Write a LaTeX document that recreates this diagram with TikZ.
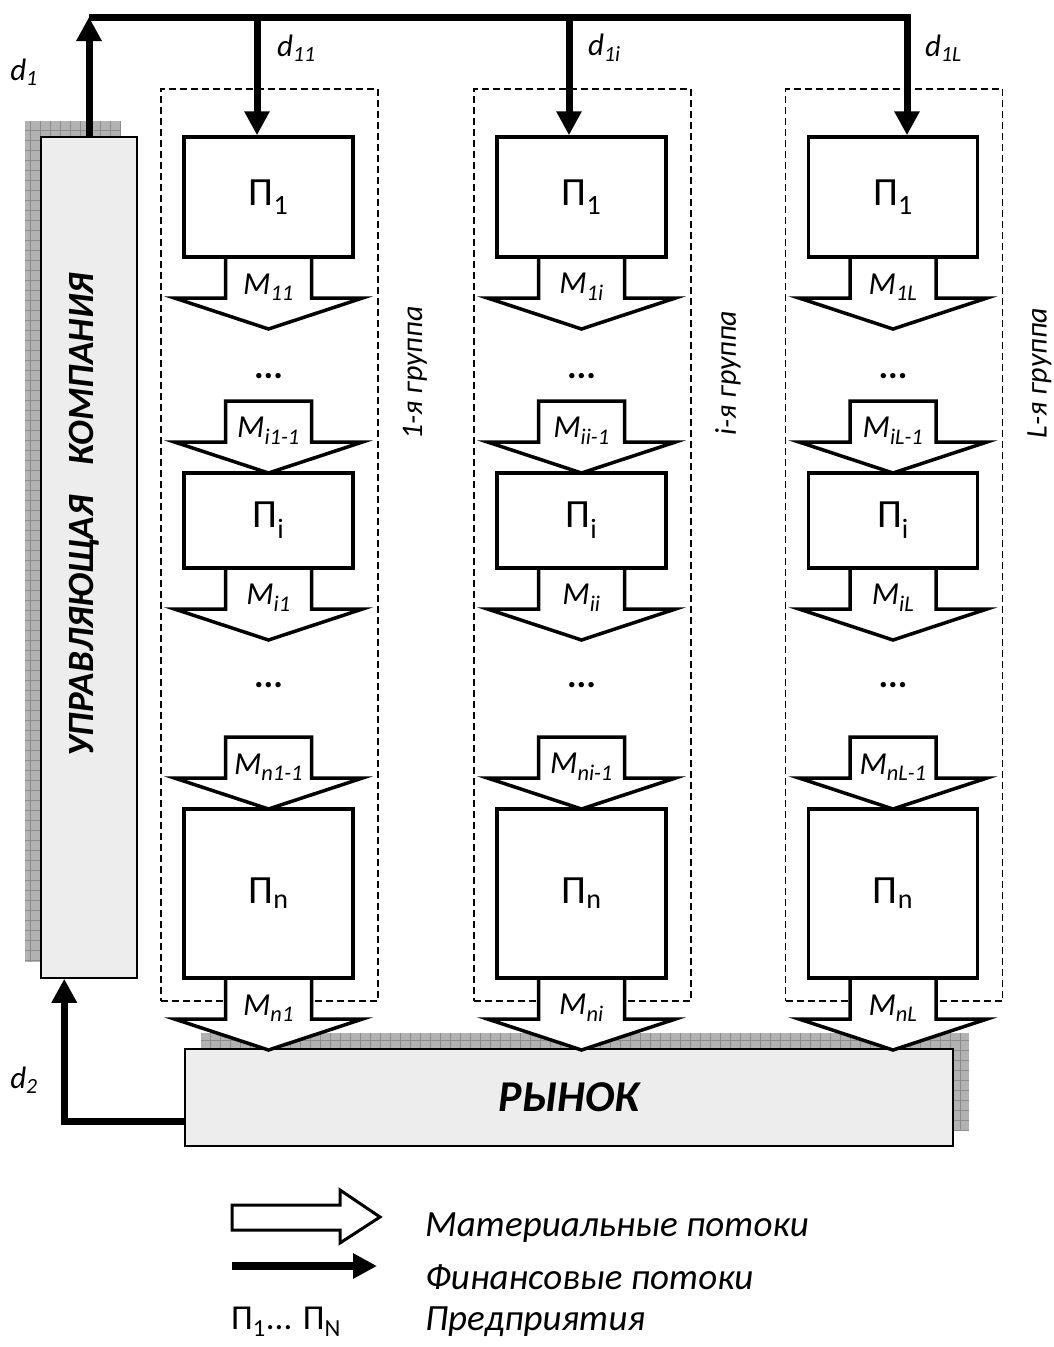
\documentclass[tikz,border=0pt]{standalone}
\usepackage{fontspec}
\setmainfont{Carlito}
\usetikzlibrary{arrows.meta}
\tikzset{
    firm-box/.style = {draw, line width=3.5pt, fill=white, minimum width=169pt, inner sep=0pt, font=\fontsize{40}{44}\selectfont},
    group-box/.style = {draw, dash pattern=on 7pt off 4pt, line width=1.3pt, minimum width=217pt, minimum height=912pt, inner sep=0pt},
    group-label/.style = {font=\fontsize{30}{34}\selectfont\itshape, inner sep=0pt},
    big-box/.style = {draw, line width=1.5pt, fill=black!7, inner sep=0pt},
    big-text/.style = {font=\fontsize{44}{48}\selectfont\bfseries\itshape, inner sep=0pt},
    shadow-box/.style = {fill=black!30},
    shadow-grid/.style = {black!45, line width=0.5pt, step=10pt},
    flow-arrow/.style = {draw, fill=white, line width=3.5pt, line join=miter},
    flow-label/.style = {font=\fontsize{32}{36}\selectfont\itshape, inner sep=0pt},
    money/.style = {line width=7pt, -{Triangle[width=24pt,length=24pt]}},
    d-label/.style = {font=\fontsize{31}{34}\selectfont\itshape, inner sep=0pt},
    dots/.style = {font=\fontsize{36}{40}\selectfont\bfseries, inner sep=0pt, anchor=base},
    legend-text/.style = {font=\fontsize{37}{42}\selectfont\itshape, inner sep=0pt, anchor=west},
}

% block arrow of a material flow: x of axis, top y, label
\newcommand{\flow}[3]{%
    \draw[flow-arrow] (#1-43,#2) -- (#1-43,#2+41) -- (#1-94,#2+41) -- (#1,#2+72)
        -- (#1+94,#2+41) -- (#1+43,#2+41) -- (#1+43,#2) -- cycle;
    \node[flow-label] at (#1,#2+30) {#3};
}

\begin{document}
\begin{tikzpicture}[x=1pt, y=-1pt]
\useasboundingbox (0,0) rectangle (1053,1347);

% shadows
\fill[shadow-box] (25,121) rectangle (121,962);
\draw[shadow-grid] (25,121) grid (121,962);
\fill[shadow-box] (201,1033) rectangle (969,1130);
\draw[shadow-grid] (201,1033) grid (969,1130);

% management company and market
\node[big-box, minimum width=96pt, minimum height=841pt] (uk) at (89,557.5) {};
\node[big-text, font=\fontsize{37}{42}\selectfont\bfseries\itshape, rotate=90] (uk-text) at (84,515) {УПРАВЛЯЮЩАЯ\hspace{0.6em} КОМПАНИЯ};
\node[big-box, big-text, minimum width=768pt, minimum height=97pt] (market) at (569,1097.5) {РЫНОК};

% groups of enterprises
\foreach \cx/\k/\bx/\dx in {268.5/1/257/277, 581.5/i/569/588, 893/L/907/925} {
    \node[group-box] (grp-\k) at (\cx+1,545) {};
    \node[group-label, rotate=90] (grp-label-\k) at (\cx+146.5,373) {\k-я группа};
    \node[firm-box, minimum height=120pt] (p1-\k) at (\cx,197) {П\textsubscript{1}};
    \node[firm-box, minimum height=95pt] (pi-\k) at (\cx,520.5) {П\textsubscript{i}};
    \node[firm-box, minimum height=169pt] (pn-\k) at (\cx,893.5) {П\textsubscript{n}};
    \flow{\cx}{257}{M\textsubscript{1\k}}
    \flow{\cx}{401}{M\textsubscript{i\k-1}}
    \flow{\cx}{568}{M\textsubscript{i\k}}
    \flow{\cx}{737}{M\textsubscript{n\k-1}}
    \flow{\cx}{978}{M\textsubscript{n\k}}
    \node[dots] (dots-a-\k) at (\cx,378) {...};
    \node[dots] (dots-b-\k) at (\cx,687) {...};
    \coordinate (bus-\k) at (\bx,17);
    \node[d-label, anchor=west] (d-\k) at (\dx,48) {d\textsubscript{1\k}};
}

% financial flows
\draw[money] (uk.north) -- (uk.north |- bus-1);
\draw[money] (uk.north |- bus-1) -- (bus-L) -- (bus-L |- p1-L.north);
\draw[money] (bus-1) -- (bus-1 |- p1-1.north);
\draw[money] (bus-i) -- (bus-i |- p1-i.north);
\draw[money] ([yshift=-23.5pt]market.west) -| ([xshift=24pt]uk.south west);
\node[d-label] (d-1) at (24,72) {d\textsubscript{1}};
\node[d-label] (d-2) at (24,1080) {d\textsubscript{2}};

% legend
\draw[flow-arrow, line width=3pt] (232,1205) -- (340,1205) -- (340,1190) -- (380,1217)
    -- (340,1243) -- (340,1230) -- (232,1230) -- cycle;
\node[legend-text] (leg-mat) at (425,1228) {Материальные потоки};
\draw[money, line width=8pt] (232,1266) -- (377,1266);
\node[legend-text] (leg-fin) at (425,1277) {Финансовые потоки};
\node[font=\fontsize{35}{40}\selectfont, inner sep=0pt, anchor=west] (leg-firm) at (231,1322) {П\textsubscript{1}... П\textsubscript{N}};
\node[legend-text] (leg-ent) at (425,1322) {Предприятия};
\end{tikzpicture}
\end{document}
